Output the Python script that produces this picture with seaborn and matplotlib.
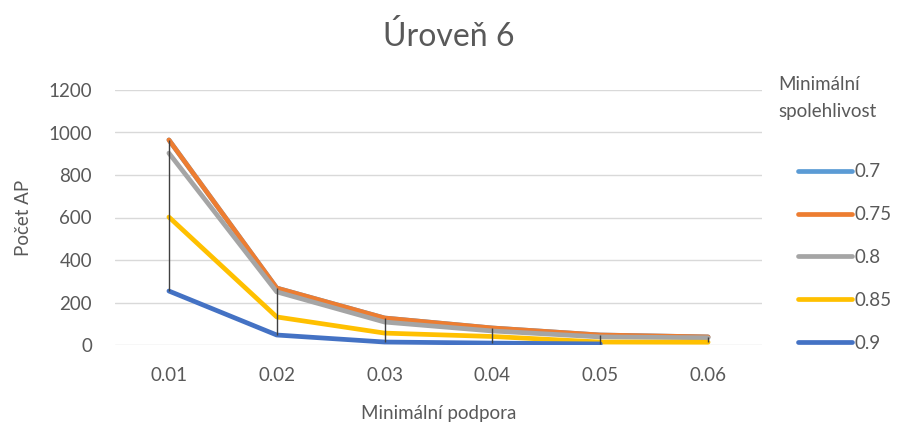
import numpy as np
import pandas as pd
import matplotlib
matplotlib.use("Agg")
import matplotlib.pyplot as plt
import seaborn as sns

# Minimum support levels (x categories)
support = ["0.01", "0.02", "0.03", "0.04", "0.05", "0.06"]

# Number of association rules per minimum confidence level
conf_070 = [965, 268, 127, 80, 47, 38]
conf_075 = [965, 268, 127, 80, 47, 38]
conf_080 = [903, 250, 108, 66, 38, 34]
conf_085 = [602, 132, 56, 40, 14, 13]
conf_090 = [254, 47, 14, 9, 5, np.nan]

series_names = ["0.7", "0.75", "0.8", "0.85", "0.9"]
series_values = [conf_070, conf_075, conf_080, conf_085, conf_090]
colors = ["#5B9BD5", "#ED7D31", "#A5A5A5", "#FFC000", "#4472C4"]

rows = []
for name, vals in zip(series_names, series_values):
    for s, v in zip(support, vals):
        rows.append({"support": s, "count": v, "conf": name})
df = pd.DataFrame(rows)

sns.set_theme(style="white")
plt.rcParams["font.family"] = ["Lato", "DejaVu Sans"]
text_color = "#595959"
W, H = 910, 428

fig = plt.figure(figsize=(W / 100, H / 100), dpi=100)
ax = fig.add_axes([115 / W, 1 - 345 / H, 647 / W, 255 / H])

# High-low lines across all series at each support level
wide = df.pivot(index="support", columns="conf", values="count").loc[support]
xpos = np.arange(len(support))
ax.vlines(xpos, wide.min(axis=1), wide.max(axis=1), color="#404040", lw=1.0, zorder=5)

sns.lineplot(data=df, x="support", y="count", hue="conf", hue_order=series_names,
             palette=colors, linewidth=3.4, ax=ax, sort=False, zorder=3)

ax.set_xlim(-0.5, len(support) - 0.5)
ax.set_ylim(0, 1200)
ax.set_yticks(np.arange(0, 1201, 200))
ax.yaxis.grid(True, color="#D9D9D9", lw=1.0)
ax.set_axisbelow(True)
for sp in ax.spines.values():
    sp.set_visible(False)
ax.tick_params(axis="both", length=0, labelsize=13.5, colors=text_color)
ax.tick_params(axis="x", pad=16)
ax.tick_params(axis="y", pad=16.5)

ax.set_xlabel("Minimální podpora", fontsize=13.5, color=text_color, labelpad=15)
ax.set_ylabel("Počet AP", fontsize=13.5, color=text_color, labelpad=12)
fig.text(449 / W, 1 - 46 / H, "Úroveň 6", fontsize=23, color=text_color,
         ha="center", va="baseline")

# Legend title drawn separately so the entries sit indented beneath it
fig.text(778 / W, 1 - 76 / H, "Minimální\nspolehlivost", fontsize=13.5,
         color=text_color, ha="left", va="top", linespacing=1.75)

handles, labels = ax.get_legend_handles_labels()
leg = ax.legend(handles, labels, loc="center left",
                bbox_to_anchor=(798 / W, 1 - 257.5 / H), bbox_transform=fig.transFigure,
                frameon=False, fontsize=13.5, handlelength=2.9, handletextpad=0.12,
                labelspacing=1.38, borderaxespad=0, borderpad=0)
for t in leg.get_texts():
    t.set_color(text_color)
for h in leg.get_lines():
    h.set_linewidth(3.4)

fig.savefig("out.png", dpi=100)
